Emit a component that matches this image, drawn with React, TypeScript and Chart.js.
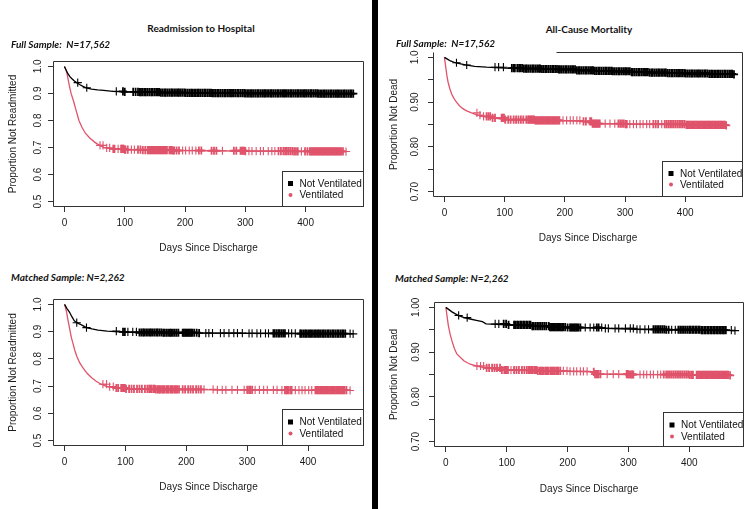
import React, { useEffect, useRef } from "react";
import { Chart, registerables } from "chart.js";
Chart.register(...registerables);

// ---------- DATA ----------
const seriesNames = ["Not Ventilated", "Ventilated"];
const seriesColors = ["#000000", "#DF536B"];

const xTickValues = [0, 100, 200, 300, 400];
const xAxisTitle = "Days Since Discharge";

const readmitYTicks = [0.5, 0.6, 0.7, 0.8, 0.9, 1.0];
const readmitYLabels = ["0.5", "0.6", "0.7", "0.8", "0.9", "1.0"];
const mortYTicks = [0.7, 0.75, 0.8, 0.85, 0.9, 0.95, 1.0];
const mortYLabelsFull = ["0.70", "", "0.80", "", "0.90", "", "1.0"];
const mortYLabelsMatched = ["0.70", "", "0.80", "", "0.90", "", "1.00"];

// Kaplan-Meier curves: [day, proportion]
const fullReadmitNotVent = [
  [0, 1.0], [3, 0.985], [6, 0.972], [9, 0.962], [12, 0.955], [16, 0.947], [20, 0.94], [25, 0.933],
  [30, 0.927], [36, 0.921], [45, 0.916], [55, 0.913], [65, 0.911], [80, 0.908], [100, 0.906],
  [125, 0.905], [160, 0.903], [200, 0.902], [245, 0.901], [300, 0.9], [360, 0.9], [420, 0.899], [479, 0.899],
];
const fullReadmitVent = [
  [0, 1.0], [3, 0.985], [5, 0.965], [8, 0.93], [11, 0.9], [15, 0.872], [19, 0.84], [24, 0.8],
  [29, 0.775], [35, 0.752], [42, 0.735], [50, 0.72], [58, 0.708], [67, 0.699], [80, 0.695],
  [100, 0.692], [130, 0.69], [180, 0.689], [240, 0.688], [300, 0.687], [380, 0.686], [467, 0.685],
];
const fullMortNotVent = [
  [0, 1.0], [5, 0.996], [10, 0.992], [18, 0.988], [25, 0.986], [35, 0.983], [50, 0.98], [70, 0.978],
  [100, 0.976], [130, 0.975], [160, 0.974], [190, 0.973], [220, 0.971], [250, 0.97], [280, 0.969],
  [310, 0.967], [340, 0.966], [370, 0.965], [400, 0.964], [440, 0.963], [481, 0.962],
];
const fullMortVent = [
  [0, 1.0], [2, 0.98], [4, 0.96], [6, 0.945], [9, 0.93], [12, 0.918], [16, 0.908], [20, 0.9],
  [25, 0.892], [30, 0.886], [36, 0.881], [45, 0.876], [55, 0.871], [65, 0.868], [80, 0.865],
  [100, 0.861], [150, 0.859], [230, 0.857], [245, 0.852], [300, 0.851], [400, 0.849], [468, 0.848],
];
const matchedReadmitNotVent = [
  [0, 1.0], [4, 0.985], [8, 0.972], [12, 0.955], [16, 0.94], [20, 0.933], [25, 0.928], [30, 0.922],
  [36, 0.915], [45, 0.91], [55, 0.906], [70, 0.902], [90, 0.899], [120, 0.897], [160, 0.896],
  [220, 0.895], [300, 0.894], [380, 0.893], [474, 0.892],
];
const matchedReadmitVent = [
  [0, 1.0], [3, 0.975], [5, 0.95], [8, 0.915], [11, 0.88], [14, 0.855], [17, 0.83], [20, 0.81],
  [25, 0.785], [30, 0.768], [37, 0.747], [45, 0.73], [52, 0.718], [60, 0.707], [70, 0.698],
  [85, 0.693], [100, 0.69], [150, 0.688], [250, 0.686], [350, 0.685], [469, 0.684],
];
const matchedMortNotVent = [
  [0, 1.0], [5, 0.995], [10, 0.99], [15, 0.986], [20, 0.982], [30, 0.977], [40, 0.974], [50, 0.971],
  [60, 0.968], [66, 0.963], [100, 0.961], [140, 0.958], [170, 0.956], [200, 0.955], [260, 0.953],
  [310, 0.951], [360, 0.95], [420, 0.949], [475, 0.948],
];
const matchedMortVent = [
  [0, 1.0], [2, 0.98], [4, 0.96], [7, 0.94], [10, 0.925], [14, 0.908], [18, 0.896], [24, 0.888],
  [30, 0.88], [40, 0.873], [50, 0.869], [65, 0.865], [90, 0.86], [150, 0.858], [200, 0.857],
  [238, 0.856], [245, 0.851], [300, 0.85], [400, 0.849], [467, 0.848],
];

// Censoring times (days) shown as "+" marks
const fullReadmitNotVentCensor = [22, 37, 86, 97, 100, 114, 118, 122, 125, 127, 130, 133, 135, 138, 141, 144, 146, 149, 152, 155, 157, 160, 163, 166, 168, 171, 174, 177, 179, 182, 185, 188, 190, 193, 196, 199, 201, 204, 207, 210, 212, 215, 218, 221, 223, 226, 229, 232, 234, 237, 240, 243, 245, 248, 251, 254, 256, 259, 262, 265, 267, 270, 273, 276, 278, 281, 284, 287, 289, 292, 295, 298, 300, 303, 306, 309, 311, 314, 317, 320, 322, 325, 328, 331, 333, 336, 339, 342, 344, 347, 350, 353, 355, 358, 361, 364, 366, 369, 372, 375, 377, 380, 383, 386, 388, 391, 394, 397, 399, 402, 405, 408, 410, 413, 416, 419, 421, 424, 427, 430, 432, 435, 438, 441, 443, 446, 449, 452, 454, 457, 460, 463, 465, 468, 471, 474, 476, 479];
const fullReadmitVentCensor = [59, 64, 70, 75, 81, 83, 89, 94, 95, 97, 98, 100, 101, 105, 111, 116, 122, 126, 130, 134, 138, 140, 142, 144, 146, 148, 150, 152, 154, 156, 158, 160, 162, 164, 166, 168, 170, 174, 176, 178, 180, 182, 186, 190, 196, 201, 207, 212, 218, 223, 227, 244, 248, 252, 262, 281, 285, 292, 294, 296, 298, 300, 306, 311, 318, 325, 330, 338, 344, 349, 355, 359, 363, 366, 369, 372, 375, 378, 381, 384, 387, 393, 399, 403, 407, 409, 411, 413, 415, 417, 419, 421, 423, 425, 427, 429, 431, 433, 435, 437, 439, 441, 443, 445, 447, 449, 451, 453, 455, 457, 459, 462, 467];
const fullMortNotVentCensor = [20, 37, 84, 90, 98, 112, 115, 117, 121, 124, 126, 129, 132, 135, 137, 140, 143, 146, 148, 151, 154, 157, 159, 162, 165, 168, 170, 173, 176, 179, 181, 184, 187, 190, 192, 195, 198, 201, 203, 206, 209, 212, 214, 217, 220, 223, 225, 228, 231, 234, 236, 239, 242, 245, 247, 250, 253, 256, 258, 261, 264, 267, 269, 272, 275, 278, 280, 283, 286, 289, 291, 294, 297, 300, 302, 305, 308, 311, 313, 316, 319, 322, 324, 327, 330, 333, 335, 338, 341, 344, 346, 349, 352, 355, 357, 360, 363, 366, 368, 371, 374, 377, 379, 382, 385, 388, 390, 393, 396, 399, 401, 404, 407, 410, 412, 415, 418, 421, 423, 426, 429, 432, 434, 437, 440, 443, 445, 448, 451, 454, 456, 459, 462, 465, 467, 470, 473, 476, 478, 481];
const fullMortVentCensor = [54, 59, 65, 70, 73, 76, 80, 84, 95, 97, 99, 101, 106, 110, 115, 119, 123, 127, 131, 136, 139, 141, 143, 145, 147, 149, 151, 153, 155, 157, 159, 161, 163, 165, 167, 169, 171, 173, 175, 177, 179, 181, 183, 185, 187, 189, 191, 197, 203, 209, 214, 220, 225, 231, 235, 242, 244, 246, 248, 250, 252, 254, 256, 258, 267, 275, 283, 289, 292, 295, 298, 301, 303, 308, 314, 319, 325, 330, 336, 341, 347, 351, 355, 361, 366, 369, 372, 375, 378, 381, 384, 387, 390, 393, 396, 399, 402, 404, 406, 408, 410, 412, 414, 416, 418, 420, 422, 424, 426, 428, 430, 432, 434, 436, 438, 440, 442, 444, 446, 448, 450, 452, 454, 456, 458, 460, 462, 464, 466, 468];
const matchedReadmitNotVentCensor = [20, 36, 85, 96, 99, 104, 112, 118, 123, 126, 129, 131, 134, 137, 140, 142, 145, 148, 151, 153, 156, 159, 162, 164, 167, 170, 173, 175, 178, 181, 184, 187, 194, 196, 198, 200, 202, 204, 206, 208, 210, 213, 217, 221, 232, 237, 243, 256, 262, 270, 278, 284, 292, 303, 308, 316, 322, 330, 335, 343, 345, 348, 351, 353, 356, 359, 362, 368, 373, 379, 387, 389, 392, 395, 397, 400, 403, 405, 408, 411, 413, 416, 418, 421, 424, 426, 429, 432, 434, 437, 440, 442, 445, 448, 450, 453, 456, 458, 461, 469, 474];
const matchedReadmitVentCensor = [63, 69, 74, 80, 85, 88, 93, 95, 97, 99, 101, 106, 110, 114, 119, 123, 127, 132, 136, 139, 141, 143, 146, 148, 150, 153, 155, 157, 160, 162, 164, 167, 169, 171, 174, 176, 178, 181, 183, 185, 188, 194, 198, 203, 207, 211, 216, 220, 224, 229, 244, 251, 259, 265, 275, 284, 295, 300, 303, 305, 308, 313, 320, 327, 333, 343, 349, 357, 362, 364, 366, 368, 371, 373, 379, 385, 390, 395, 401, 406, 412, 414, 416, 418, 420, 422, 424, 426, 428, 430, 432, 434, 436, 438, 440, 442, 444, 446, 448, 450, 452, 454, 456, 458, 460, 463, 469];
const matchedMortNotVentCensor = [21, 35, 81, 87, 95, 99, 103, 112, 114, 117, 119, 122, 124, 127, 129, 132, 134, 137, 139, 142, 144, 147, 150, 153, 156, 159, 162, 165, 169, 171, 173, 175, 177, 179, 181, 183, 185, 187, 189, 191, 193, 196, 200, 204, 206, 208, 210, 212, 214, 216, 218, 221, 229, 237, 243, 248, 251, 256, 262, 267, 278, 284, 295, 303, 308, 314, 319, 327, 333, 341, 344, 347, 350, 353, 356, 359, 362, 366, 371, 377, 382, 385, 388, 391, 394, 397, 400, 402, 405, 407, 410, 412, 415, 417, 420, 422, 425, 427, 430, 432, 435, 437, 440, 442, 445, 447, 450, 452, 455, 457, 460, 469, 475];
const matchedMortVentCensor = [51, 57, 62, 67, 71, 76, 80, 84, 89, 92, 96, 98, 100, 102, 107, 112, 116, 120, 125, 129, 133, 136, 138, 140, 142, 145, 147, 149, 151, 154, 156, 158, 160, 163, 165, 167, 169, 172, 174, 176, 178, 181, 183, 185, 188, 193, 199, 204, 210, 215, 221, 226, 232, 243, 245, 247, 249, 251, 254, 265, 275, 284, 297, 299, 301, 304, 306, 308, 319, 325, 330, 336, 341, 348, 353, 358, 362, 365, 368, 371, 374, 377, 380, 383, 386, 389, 392, 395, 398, 401, 404, 406, 412, 414, 416, 418, 420, 422, 424, 426, 428, 430, 432, 434, 436, 438, 440, 442, 444, 446, 448, 450, 452, 454, 456, 458, 460, 462, 464, 467];

// ---------- HELPERS ----------
const AXIS_FONT = "'Liberation Sans', Arial, Helvetica, sans-serif";
const HEAD_FONT = "Lato, 'Open Sans', sans-serif";
const LINE_COLOR = "#333333";

// value of the KM step function at a given day
function stepAt(curve: number[][], day: number): number {
  let v = curve[0][1];
  for (const [d, y] of curve) {
    if (d <= day) v = y;
    else break;
  }
  return v;
}

// isolated "+" marks are drawn thinner than those inside dense clusters
function markWidth(days: number[], i: number): number {
  const prev = i > 0 ? days[i] - days[i - 1] : 99;
  const next = i < days.length - 1 ? days[i + 1] - days[i] : 99;
  return Math.min(prev, next) > 4 ? 1.1 : 1.8;
}

const boxPlugin = {
  id: "kmBox",
  afterDatasetsDraw(chart: any, _args: any, opts: any) {
    const { ctx, chartArea } = chart;
    const l = Math.round(chartArea.left) + 0.5;
    const t = Math.round(chartArea.top) + 0.5;
    const r = Math.round(chartArea.right) - 0.5;
    const b = Math.round(chartArea.bottom) - 0.5;
    ctx.save();
    ctx.strokeStyle = LINE_COLOR;
    ctx.lineWidth = 1;
    ctx.beginPath();
    const topStart = opts && opts.topStart ? l + opts.topStart : l;
    ctx.moveTo(topStart, t);
    ctx.lineTo(r, t);
    ctx.lineTo(r, b);
    ctx.lineTo(l, b);
    ctx.lineTo(l, t);
    ctx.stroke();
    ctx.restore();
  },
};

const legendPlugin = {
  id: "kmLegend",
  afterDatasetsDraw(chart: any, _args: any, opts: any) {
    const { ctx, chartArea } = chart;
    const w = opts.width;
    const h = opts.height;
    const x0 = Math.round(chartArea.right) - w;
    const y0 = Math.round(chartArea.bottom) - h;
    ctx.save();
    ctx.fillStyle = "#ffffff";
    ctx.fillRect(x0, y0, w, h);
    ctx.strokeStyle = LINE_COLOR;
    ctx.lineWidth = 1;
    ctx.strokeRect(x0 + 0.5, y0 + 0.5, w - 1, h - 1);
    ctx.font = `10px ${AXIS_FONT}`;
    ctx.textBaseline = "middle";
    ctx.textAlign = "left";
    const main = chart.data.datasets.slice(0, 2);
    main.forEach((ds: any, i: number) => {
      const cy = y0 + opts.rowY[i];
      const mx = x0 + opts.markerX;
      ctx.fillStyle = ds.borderColor;
      if (i === 0) {
        ctx.fillRect(mx - 2.5, cy - 2.5, 5, 5);
      } else {
        ctx.beginPath();
        ctx.arc(mx, cy, 2, 0, Math.PI * 2);
        ctx.fill();
      }
      ctx.fillStyle = "#111111";
      ctx.fillText(ds.label, x0 + opts.textX, cy + 0.5);
    });
    ctx.restore();
  },
};

interface PanelSpec {
  left: number;
  top: number;
  width: number;
  height: number;
  area: { x1: number; y1: number; x2: number; y2: number };
  xMin: number;
  xMax: number;
  yMin: number;
  yMax: number;
  yTicks: number[];
  yLabels: string[];
  yTitle: string;
  yTitlePad: number;
  curves: number[][][];
  censors: number[][];
  legend: { width: number; height: number; rowY: number[]; markerX: number; textX: number };
  topStart?: number;
}

function KMPanel({ spec }: { spec: PanelSpec }) {
  const ref = useRef<HTMLCanvasElement | null>(null);
  useEffect(() => {
    const canvas = ref.current;
    if (!canvas) return;
    const s = spec;
    const yAxisW = s.area.x1 - s.left;
    const xAxisH = s.top + s.height - s.area.y2;
    const datasets: any[] = [];
    s.curves.forEach((curve, i) => {
      datasets.push({
        label: seriesNames[i],
        data: curve.map(([x, y]) => ({ x, y })),
        showLine: true,
        borderColor: seriesColors[i],
        backgroundColor: seriesColors[i],
        borderWidth: 1.3,
        pointRadius: 0,
        tension: 0,
        fill: false,
      });
    });
    s.censors.forEach((days, i) => {
      const widths = days.map((_d, k) => markWidth(days, k));
      datasets.push({
        label: seriesNames[i] + " (censored)",
        data: days.map((d) => ({ x: d, y: stepAt(s.curves[i], d) })),
        showLine: false,
        pointStyle: "cross",
        pointRadius: 4.1,
        pointHoverRadius: 4.1,
        borderColor: seriesColors[i],
        backgroundColor: seriesColors[i],
        borderWidth: widths,
      });
    });
    const chart = new Chart(canvas, {
      type: "scatter",
      data: { datasets },
      plugins: [boxPlugin, legendPlugin],
      options: {
        responsive: false,
        animation: false,
        devicePixelRatio: 1,
        events: [],
        layout: {
          padding: { top: s.area.y1 - s.top, right: s.left + s.width - s.area.x2, left: 0, bottom: 0 },
        },
        plugins: {
          legend: { display: false },
          tooltip: { enabled: false },
          kmBox: { topStart: s.topStart || 0 },
          kmLegend: s.legend,
        } as any,
        scales: {
          x: {
            type: "linear",
            min: s.xMin,
            max: s.xMax,
            afterBuildTicks: (scale: any) => {
              scale.ticks = xTickValues.map((v) => ({ value: v }));
            },
            afterFit: (scale: any) => {
              scale.height = xAxisH;
            },
            ticks: {
              autoSkip: false,
              maxRotation: 0,
              padding: 5,
              color: "#1a1a1a",
              font: { family: AXIS_FONT, size: 10 },
              callback: (v: any) => String(v),
            },
            grid: { drawOnChartArea: false, drawTicks: true, tickLength: 5, tickColor: LINE_COLOR },
            border: { display: false },
            title: {
              display: true,
              text: xAxisTitle,
              color: "#1a1a1a",
              font: { family: AXIS_FONT, size: 10 },
              padding: { top: 0, bottom: 6 },
            },
          },
          y: {
            type: "linear",
            min: s.yMin,
            max: s.yMax,
            afterBuildTicks: (scale: any) => {
              scale.ticks = s.yTicks.map((v) => ({ value: v }));
            },
            afterFit: (scale: any) => {
              scale.width = yAxisW;
            },
            ticks: {
              autoSkip: false,
              minRotation: 90,
              maxRotation: 90,
              crossAlign: "center",
              padding: 3,
              color: "#1a1a1a",
              font: { family: AXIS_FONT, size: 10 },
              callback: (_v: any, idx: number) => s.yLabels[idx],
            },
            grid: { drawOnChartArea: false, drawTicks: true, tickLength: 5, tickColor: LINE_COLOR },
            border: { display: false },
            title: {
              display: true,
              text: s.yTitle,
              color: "#1a1a1a",
              font: { family: AXIS_FONT, size: 10 },
              padding: { top: s.yTitlePad, bottom: 0 },
            },
          },
        },
      } as any,
    });
    return () => chart.destroy();
  }, [spec]);
  return (
    <canvas
      ref={ref}
      width={spec.width}
      height={spec.height}
      style={{ position: "absolute", left: spec.left, top: spec.top, width: spec.width, height: spec.height }}
    />
  );
}

const panels: PanelSpec[] = [
  {
    left: 0, top: 49, width: 370, height: 211,
    area: { x1: 53, y1: 61, x2: 366, y2: 207 },
    xMin: -19, xMax: 497, yMin: 0.48, yMax: 1.02,
    yTicks: readmitYTicks, yLabels: readmitYLabels,
    yTitle: "Proportion Not Readmitted", yTitlePad: 7,
    curves: [fullReadmitNotVent, fullReadmitVent],
    censors: [fullReadmitNotVentCensor, fullReadmitVentCensor],
    legend: { width: 82, height: 36, rowY: [12.5, 24], markerX: 8.5, textX: 17.5 },
  },
  {
    left: 380, top: 40, width: 370, height: 210,
    area: { x1: 433, y1: 52, x2: 743, y2: 197 },
    xMin: -19, xMax: 496, yMin: 0.688, yMax: 1.012,
    yTicks: mortYTicks, yLabels: mortYLabelsFull,
    yTitle: "Proportion Not Dead", yTitlePad: 8,
    curves: [fullMortNotVent, fullMortVent],
    censors: [fullMortNotVentCensor, fullMortVentCensor],
    legend: { width: 81, height: 36, rowY: [12.5, 23.5], markerX: 9, textX: 18 },
    topStart: 123,
  },
  {
    left: 0, top: 287, width: 370, height: 212,
    area: { x1: 53, y1: 299, x2: 366, y2: 446 },
    xMin: -19, xMax: 492, yMin: 0.48, yMax: 1.02,
    yTicks: readmitYTicks, yLabels: readmitYLabels,
    yTitle: "Proportion Not Readmitted", yTitlePad: 7,
    curves: [matchedReadmitNotVent, matchedReadmitVent],
    censors: [matchedReadmitNotVentCensor, matchedReadmitVentCensor],
    legend: { width: 82, height: 37, rowY: [13, 24.5], markerX: 8.5, textX: 17.5 },
  },
  {
    left: 380, top: 290, width: 370, height: 211,
    area: { x1: 434, y1: 302, x2: 745, y2: 447 },
    xMin: -19.5, xMax: 490, yMin: 0.688, yMax: 1.012,
    yTicks: mortYTicks, yLabels: mortYLabelsMatched,
    yTitle: "Proportion Not Dead", yTitlePad: 8,
    curves: [matchedMortNotVent, matchedMortVent],
    censors: [matchedMortNotVentCensor, matchedMortVentCensor],
    legend: { width: 81, height: 35, rowY: [13, 24.5], markerX: 9, textX: 18 },
  },
];

const headings = [
  { text: "Readmission to Hospital", cx: 201, cy: 28, italic: false, align: "center" },
  { text: "All-Cause Mortality", cx: 589, cy: 29, italic: false, align: "center" },
  { text: "Full Sample:  N=17,562", cx: 11, cy: 44, italic: true, align: "left" },
  { text: "Full Sample:  N=17,562", cx: 396, cy: 43, italic: true, align: "left" },
  { text: "Matched Sample: N=2,262", cx: 11, cy: 277, italic: true, align: "left" },
  { text: "Matched Sample: N=2,262", cx: 395, cy: 278, italic: true, align: "left" },
];

export default function App() {
  return (
    <div
      style={{
        position: "fixed",
        left: 0,
        top: 0,
        width: 750,
        height: 509,
        background: "#ffffff",
        overflow: "hidden",
      }}
    >
      {panels.map((p, i) => (
        <KMPanel key={i} spec={p} />
      ))}
      {headings.map((h, i) => (
        <div
          key={"h" + i}
          style={{
            position: "absolute",
            left: h.align === "center" ? h.cx - 120 : h.cx,
            width: h.align === "center" ? 240 : undefined,
            top: h.cy - 7,
            height: 14,
            lineHeight: "14px",
            textAlign: h.align as any,
            fontFamily: HEAD_FONT,
            fontWeight: 700,
            fontStyle: h.italic ? "italic" : "normal",
            fontSize: 10,
            color: "#111111",
            whiteSpace: "pre",
          }}
        >
          {h.text}
        </div>
      ))}
      <div style={{ position: "absolute", left: 372, top: 0, width: 6, height: 509, background: "#000000" }} />
    </div>
  );
}
